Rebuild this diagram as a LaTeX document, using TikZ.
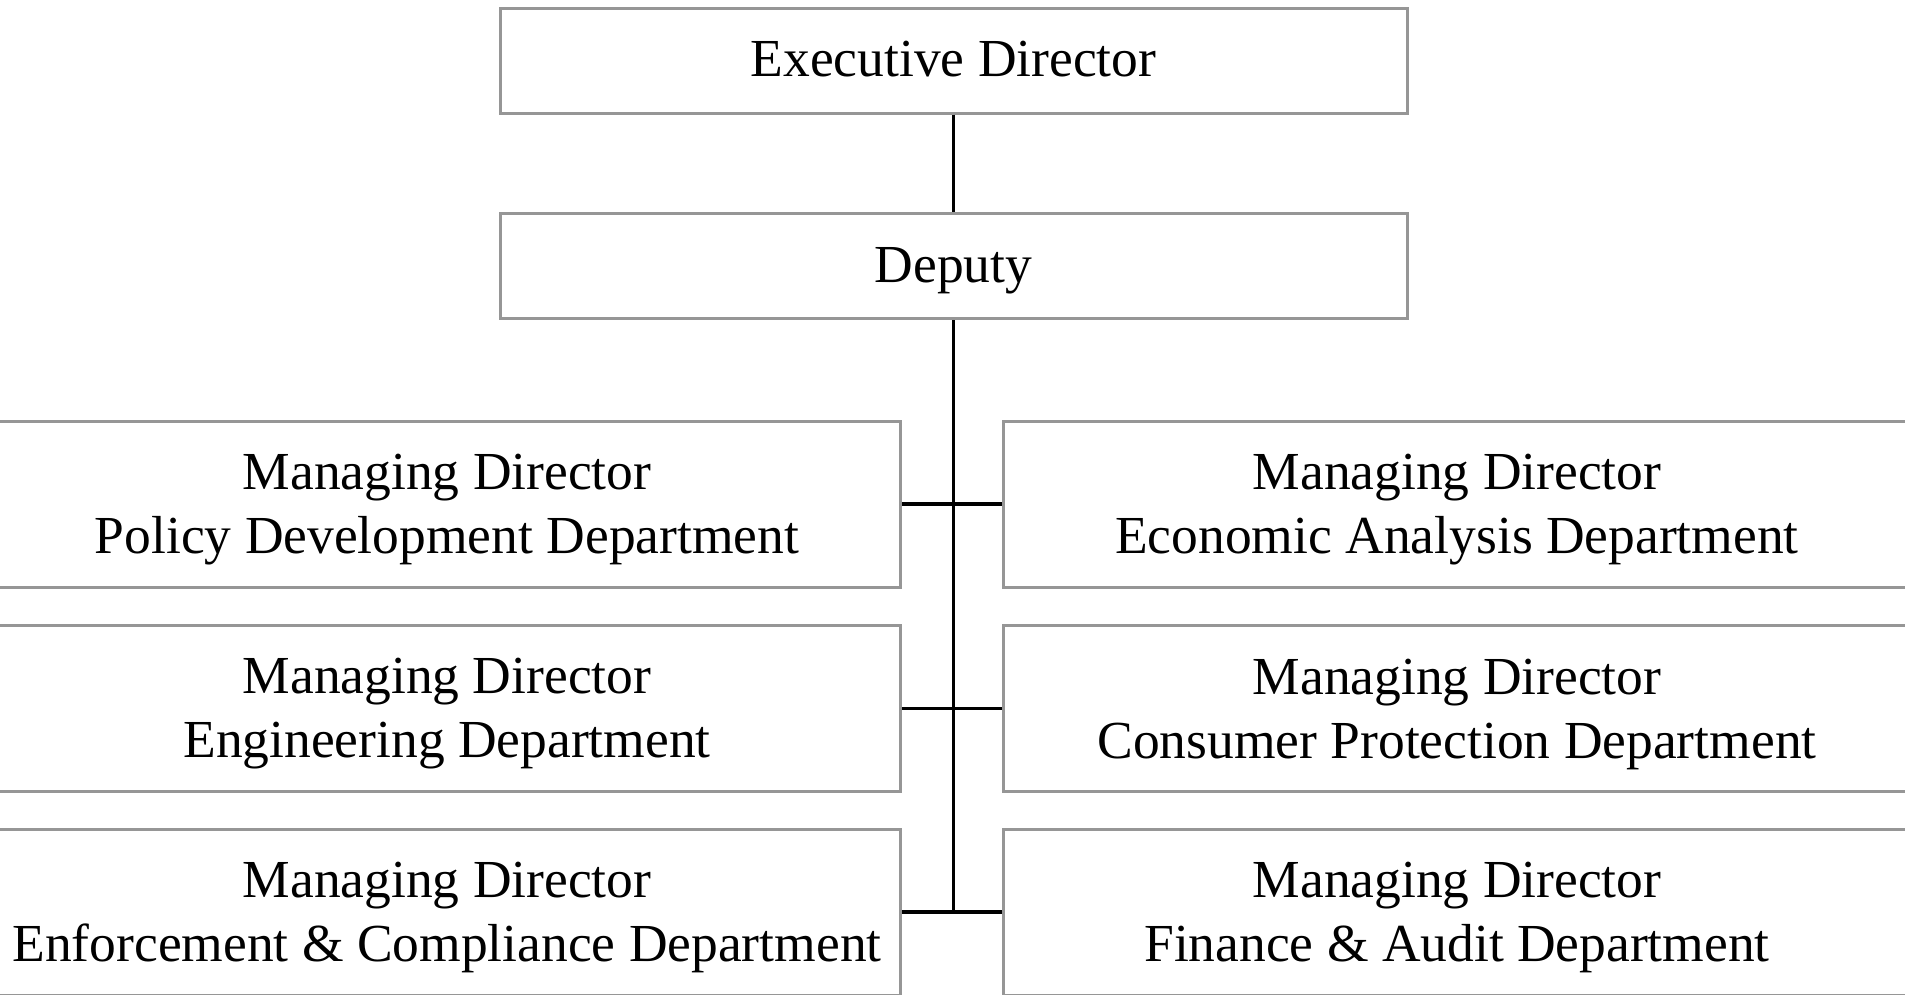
\documentclass[tikz,border=0pt]{standalone}
\usepackage{fontspec}
\setmainfont{Liberation Serif}
\definecolor{boxgray}{RGB}{150,150,150}
\newcommand{\firststrut}{\rule{0pt}{46.5pt}}
\tikzset{
  orgbox/.style={draw=boxgray, line width=3pt, rectangle, inner sep=0pt,
    minimum width=907pt, align=center, font=\fontsize{53.5}{64}\selectfont},
  topbox/.style={orgbox, minimum height=105pt, text height=36.5pt, text depth=4.5pt},
  deptbox/.style={orgbox, minimum height=166pt},
  link/.style={draw=black, line width=3.5pt},
}
\begin{document}
\begin{tikzpicture}[x=1pt,y=-1pt]
\useasboundingbox (0,0) rectangle (1905,994);
\begin{scope}
\clip (0,0) rectangle (1905,994);
\node[topbox] (exec) at (953.5,60.5) {Executive Director};
\node[topbox] (dep) at (953.5,266) {Deputy};
\node[deptbox] (l1) at (447,504) {\firststrut Managing Director\\Policy Development Department};
\node[deptbox] (r1) at (1457,504) {\firststrut Managing Director\\Economic Analysis Department};
\node[deptbox] (l2) at (447,708.5) {\firststrut Managing Director\\Engineering Department};
\node[deptbox] (r2) at (1457,708.5) {\firststrut Managing Director\\Consumer Protection Department};
\node[deptbox] (l3) at (447,912) {\firststrut Managing Director\\Enforcement \& Compliance Department};
\node[deptbox] (r3) at (1457,912) {\firststrut Managing Director\\Finance \& Audit Department};
\coordinate (j3) at (dep.south |- l3.east);
\draw[link, line width=2.6pt] (exec.south) -- (dep.north);
\draw[link] (dep.south) -- (j3);
\draw[link] (l1.east) -- (r1.west);
\draw[link] (l2.east) -- (r2.west);
\draw[link] (l3.east) -- (r3.west);
\end{scope}
\end{tikzpicture}
\end{document}
